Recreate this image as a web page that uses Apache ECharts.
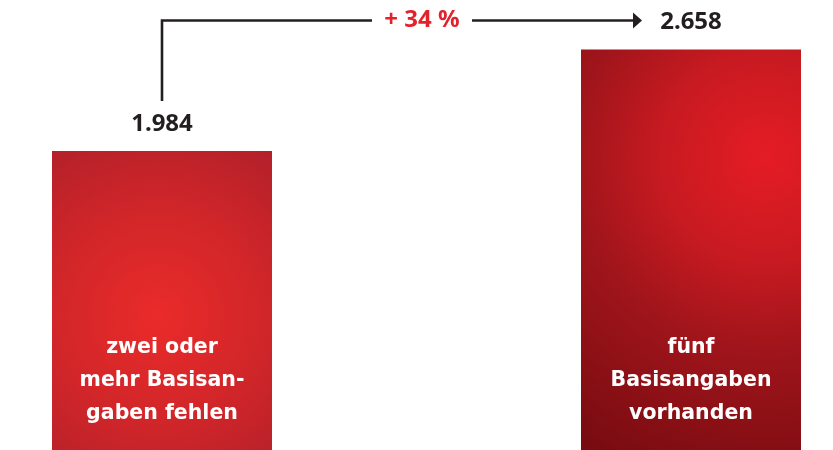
<!DOCTYPE html>
<html><head><meta charset="utf-8">
<script src="https://cdn.jsdelivr.net/npm/echarts@6/dist/echarts.min.js"></script>
<style>html,body{margin:0;padding:0;background:#fff}#c{width:833px;height:450px}</style>
</head><body><div id="c"></div>
<script>
const categories = ['zwei oder\nmehr Basisan-\ngaben fehlen', 'fünf\nBasisangaben\nvorhanden'];
const values = [1984, 2658];

const barGradients = [
  {type:'radial', x:0.48, y:0.55, r:0.92, colorStops:[
    {offset:0, color:'#ea2b2a'}, {offset:0.5, color:'#d22629'}, {offset:1, color:'#b2202a'}]},
  {type:'radial', x:0.84, y:0.27, r:1.57, colorStops:[
    {offset:0, color:'#e51c24'}, {offset:0.3, color:'#c81a21'}, {offset:0.55, color:'#a0151b'}, {offset:1, color:'#760b10'}]}
];
const FONT = '"Noto Sans", sans-serif';
const fmt = v => String(v).replace(/\B(?=(\d{3})+(?!\d))/g, '.');

const chart = echarts.init(document.getElementById('c'), null, {renderer:'canvas'});
chart.setOption({
  animation:false,
  backgroundColor:'#fff',
  grid:{left:162, right:142, top:0, bottom:0},
  xAxis:{type:'category', data:categories, boundaryGap:false,
    axisLine:{show:false}, axisTick:{show:false}, splitLine:{show:false},
    axisLabel:{inside:true, interval:0, margin:20, color:'#fff', fontFamily:'"DejaVu Sans", sans-serif', fontWeight:'bold', fontSize:20.5, lineHeight:33, align:'center'},
    z:10},
  yAxis:{type:'value', min:0, max:2986, show:false, splitLine:{show:false}},
  series:[{type:'bar', barWidth:220, clip:false,
    data: values.map((v,i)=>({value:v, itemStyle:{color:barGradients[i]}})),
    label:{show:true, position:'top', distance:15, color:'#231f20', fontFamily:FONT, fontWeight:'bold', fontSize:24,
      formatter:p=>fmt(p.value)}
  }]
});

// connector annotation computed from the data through the chart's scales
const p1 = chart.convertToPixel({seriesIndex:0}, [0, values[0]]);
const p2 = chart.convertToPixel({seriesIndex:0}, [1, values[1]]);
const pct = Math.round((values[1]/values[0]-1)*100);
const lineY = p2[1] - 29;
const vBottom = p1[1] - 50;
const arrowEnd = p2[0] - 49;
const textX = p1[0] + 260;
const stroke = {stroke:'#231f20', lineWidth:2.6};
chart.setOption({graphic:[
  {type:'polyline', shape:{points:[[p1[0], vBottom],[p1[0], lineY],[textX-50, lineY]]}, style:Object.assign({fill:null}, stroke)},
  {type:'line', shape:{x1:textX+50, y1:lineY, x2:arrowEnd-8, y2:lineY}, style:stroke},
  {type:'polygon', shape:{points:[[arrowEnd-9, lineY-8],[arrowEnd, lineY],[arrowEnd-9, lineY+8]]}, style:{fill:'#231f20'}},
  {type:'text', x:textX, y:lineY, style:{text:'+ ' + pct + ' %', fill:'#e4222b', font:'bold 24px ' + FONT, align:'center', verticalAlign:'middle'}}
]});
</script></body></html>
